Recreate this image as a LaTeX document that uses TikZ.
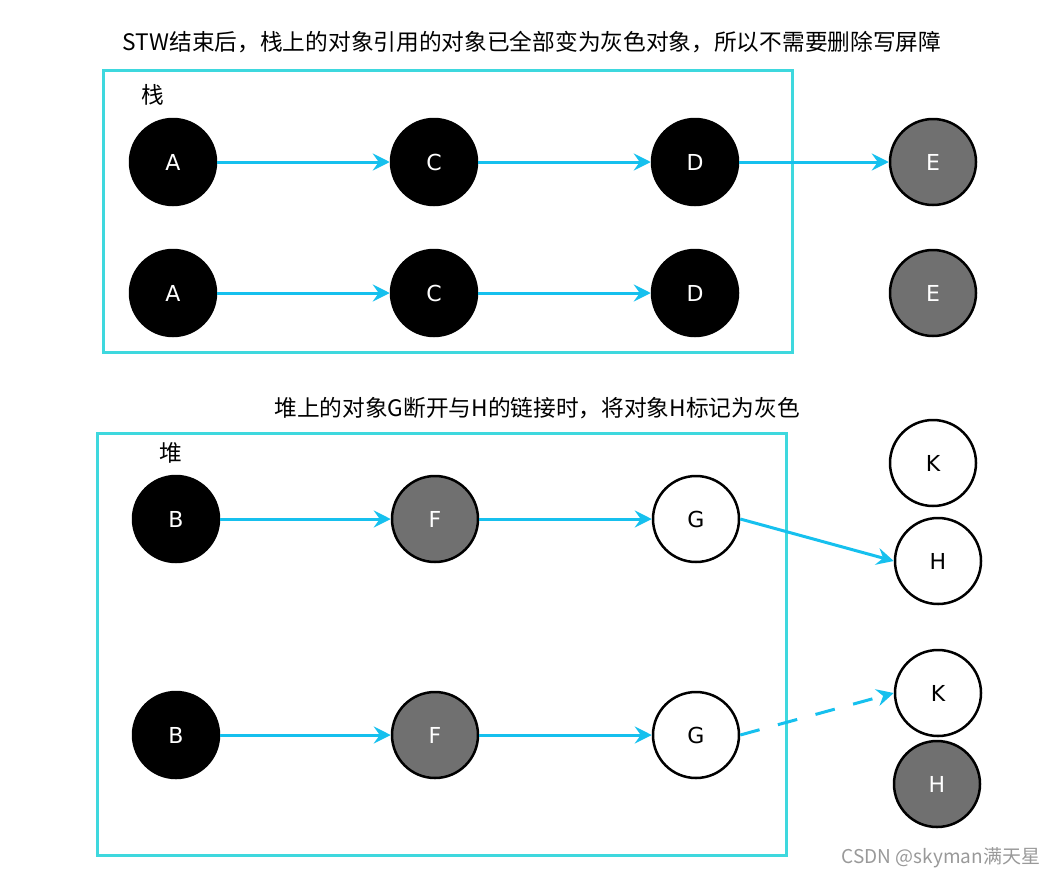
\documentclass[tikz,border=0pt]{standalone}
\usepackage{fontspec}
\setmainfont{DejaVu Sans}
\newfontfamily\cjk{Noto Sans CJK SC}
\usetikzlibrary{arrows.meta}
\definecolor{boxcyan}{RGB}{62,216,222}
\definecolor{linkblue}{RGB}{22,192,238}
\definecolor{objgray}{RGB}{112,112,112}
\begin{document}
\begin{tikzpicture}
[x=1pt, y=-1pt,
obj/.style={circle, minimum size=86pt, inner sep=0pt, line width=2.5pt, font=\fontsize{22}{26}\selectfont},
black obj/.style={obj, fill=black, draw=black, text=white},
gray obj/.style={obj, fill=objgray, draw=black, text=white},
white obj/.style={obj, fill=white, draw=black, text=black},
link/.style={draw=linkblue, line width=3pt, -{Stealth[length=17pt, width=17pt, inset=6pt]}},
area/.style={draw=boxcyan, line width=3pt},
title/.style={font=\cjk\fontsize{22.7}{27}\selectfont}]
\useasboundingbox (0,0) rectangle (1056,878);
\node [title] (t1) at (532,42) {STW结束后，栈上的对象引用的对象已全部变为灰色对象，所以不需要删除写屏障};
\draw [area] (103,70) rectangle (792,352);
\node [title] (stack) at (153,95) {栈};
\node [black obj] (A1) at (173,162) {A};
\node [black obj] (C1) at (434,162) {C};
\node [black obj] (D1) at (695,162) {D};
\node [gray obj] (E1) at (933,162) {E};
\node [black obj] (A2) at (173,293) {A};
\node [black obj] (C2) at (434,293) {C};
\node [black obj] (D2) at (695,293) {D};
\node [gray obj] (E2) at (933,293) {E};
\draw [link] (A1) -- (C1);
\draw [link] (C1) -- (D1);
\draw [link] (D1) -- (E1);
\draw [link] (A2) -- (C2);
\draw [link] (C2) -- (D2);
\node [title] (t2) at (537,408) {堆上的对象G断开与H的链接时，将对象H标记为灰色};
\draw [area] (97,433) rectangle (786,855);
\node [title] (heap) at (171,453) {堆};
\node [black obj] (B3) at (176,519) {B};
\node [gray obj] (F3) at (435,519) {F};
\node [white obj] (G3) at (696,519) {G};
\node [white obj] (K3) at (933,463) {K};
\node [white obj] (H3) at (938,561) {H};
\node [black obj] (B4) at (176,735) {B};
\node [gray obj] (F4) at (435,735) {F};
\node [white obj] (G4) at (696,735) {G};
\node [white obj] (K4) at (938,693) {K};
\node [gray obj] (H4) at (937,784) {H};
\draw [link] (B3) -- (F3);
\draw [link] (F3) -- (G3);
\draw [link] (G3.east) -- (H3.west);
\draw [link] (B4) -- (F4);
\draw [link] (F4) -- (G4);
\draw [link, dash pattern=on 20pt off 19pt] (G4.east) -- (K4.west);
\node [font=\cjk\fontsize{19}{22}\selectfont, text=gray!80] (mark) at (941,858) {CSDN @skyman满天星};
\end{tikzpicture}
\end{document}
